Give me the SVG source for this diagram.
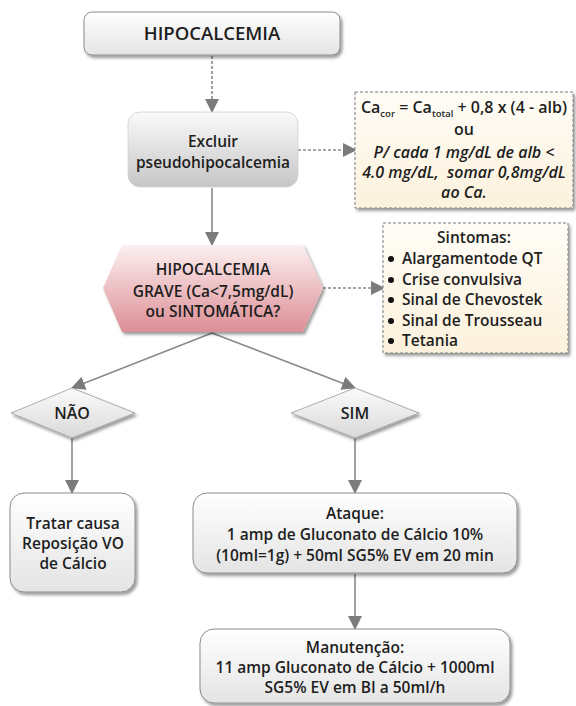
<svg xmlns="http://www.w3.org/2000/svg" width="576" height="706" viewBox="0 0 576 706">
  <defs>
    <linearGradient id="gWhite" x1="0" y1="0" x2="0" y2="1">
      <stop offset="0" stop-color="#ffffff"/>
      <stop offset="1" stop-color="#e4e4e4"/>
    </linearGradient>
    <linearGradient id="gGray" x1="0" y1="0" x2="0" y2="1">
      <stop offset="0" stop-color="#fafafa"/>
      <stop offset="1" stop-color="#c6c6c6"/>
    </linearGradient>
    <linearGradient id="gRose" x1="0" y1="0" x2="0" y2="1">
      <stop offset="0" stop-color="#fdf0f0"/>
      <stop offset="1" stop-color="#dc8e95"/>
    </linearGradient>
    <linearGradient id="gCream" x1="0" y1="0" x2="0" y2="1">
      <stop offset="0" stop-color="#fffdf7"/>
      <stop offset="1" stop-color="#fcf1dc"/>
    </linearGradient>
    <linearGradient id="gDiamond" x1="0" y1="0" x2="0" y2="1">
      <stop offset="0" stop-color="#fbfbfb"/>
      <stop offset="1" stop-color="#d9d9d9"/>
    </linearGradient>
    <filter id="shadow" x="-10%" y="-10%" width="125%" height="130%">
      <feDropShadow dx="2" dy="2.5" stdDeviation="1.6" flood-color="#000" flood-opacity="0.4"/>
    </filter>
    <marker id="arrow" viewBox="0 0 14 14" refX="13" refY="7" markerWidth="14" markerHeight="14" markerUnits="userSpaceOnUse" orient="auto">
      <path d="M0,0 L14,7 L0,14 Z" fill="#7b7b7b"/>
    </marker>
  </defs>
  <style>
    text { font-family: "Open Sans", "Liberation Sans", sans-serif; fill: #1e1e1e; text-anchor: middle; font-weight: 600; font-size: 15.5px; }
    .note { font-size: 16px; }
    .it { font-style: italic; }
    .list { font-size: 15.5px; text-anchor: start; }
    .conn { fill: none; stroke: #8a8a8a; stroke-width: 1.6; }
    .dash { stroke-dasharray: 3 2; }
    .box { stroke: #8c8c8c; stroke-width: 1; }
    .cream { fill: url(#gCream); stroke: #7a7a7a; stroke-width: 1; stroke-dasharray: 3 2; }
  </style>

  <!-- connectors -->
  <g id="connectors">
    <line class="conn dash" x1="212" y1="56" x2="212" y2="112" marker-end="url(#arrow)"/>
    <line class="conn dash" x1="298" y1="150" x2="356" y2="150" marker-end="url(#arrow)"/>
    <line class="conn" x1="212" y1="188" x2="212" y2="245" marker-end="url(#arrow)"/>
    <line class="conn dash" x1="323" y1="288" x2="384" y2="288" marker-end="url(#arrow)"/>
    <line class="conn" x1="212" y1="333" x2="72" y2="388" marker-end="url(#arrow)"/>
    <line class="conn" x1="212" y1="333" x2="355" y2="388" marker-end="url(#arrow)"/>
    <line class="conn" x1="72" y1="438" x2="72" y2="493" marker-end="url(#arrow)"/>
    <line class="conn" x1="355" y1="438" x2="355" y2="493" marker-end="url(#arrow)"/>
    <line class="conn" x1="355" y1="574" x2="355" y2="629" marker-end="url(#arrow)"/>
  </g>

  <g id="hipocalcemia">
    <rect class="box" x="84" y="12" width="256" height="43" rx="8" fill="url(#gWhite)" filter="url(#shadow)"/>
    <text x="212" y="40" style="font-size:18.5px">HIPOCALCEMIA</text>
  </g>

  <g id="excluir">
    <rect x="128" y="112" width="170" height="75" rx="12" fill="url(#gGray)" stroke="#d0d0d0" stroke-width="0.8"/>
    <text x="213" y="147">Excluir</text>
    <text x="213" y="168">pseudohipocalcemia</text>
  </g>

  <g id="formula">
    <rect class="cream" x="355" y="92" width="218" height="116" filter="url(#shadow)"/>
    <text class="note" x="464" y="113">Ca<tspan dy="4" font-size="9.5">cor</tspan><tspan dy="-4"> = Ca</tspan><tspan dy="4" font-size="9.5">total</tspan><tspan dy="-4"> + 0,8 x (4 - alb)</tspan></text>
    <text class="note" x="464" y="135">ou</text>
    <text class="note it" x="464" y="158">P/ cada 1 mg/dL de alb &lt;</text>
    <text class="note it" x="464" y="178" xml:space="preserve">4.0 mg/dL,  somar 0,8mg/dL</text>
    <text class="note it" x="464" y="198">ao Ca.</text>
  </g>

  <g id="grave">
    <polygon points="103,288 122,245 303,245 323,288 303,332 122,332" fill="url(#gRose)" filter="url(#shadow)"/>
    <text x="213" y="275">HIPOCALCEMIA</text>
    <text x="213" y="297">GRAVE (Ca&lt;7,5mg/dL)</text>
    <text x="213" y="317">ou SINTOMÁTICA?</text>
  </g>

  <g id="sintomas">
    <rect class="cream" x="383" y="223" width="185" height="130" filter="url(#shadow)"/>
    <text x="474" y="243">Sintomas:</text>
    <g fill="#111">
      <circle cx="391" cy="259" r="3"/>
      <circle cx="391" cy="280" r="3"/>
      <circle cx="391" cy="300" r="3"/>
      <circle cx="391" cy="321" r="3"/>
      <circle cx="391" cy="341" r="3"/>
    </g>
    <text class="list" x="402" y="264">Alargamentode QT</text>
    <text class="list" x="402" y="285">Crise convulsiva</text>
    <text class="list" x="402" y="305">Sinal de Chevostek</text>
    <text class="list" x="402" y="326">Sinal de Trousseau</text>
    <text class="list" x="402" y="346">Tetania</text>
  </g>

  <g id="nao">
    <polygon points="11,413 72,388 135,413 72,438" fill="url(#gDiamond)" stroke="#9a9a9a" stroke-width="0.8" filter="url(#shadow)"/>
    <text x="72" y="419" style="font-size:16px">NÃO</text>
  </g>

  <g id="sim">
    <polygon points="291,413 355,388 419,413 355,438" fill="url(#gDiamond)" stroke="#9a9a9a" stroke-width="0.8" filter="url(#shadow)"/>
    <text x="355" y="419" style="font-size:16px">SIM</text>
  </g>

  <g id="tratar">
    <rect class="box" x="10" y="493" width="125" height="99" rx="14" fill="url(#gWhite)" filter="url(#shadow)"/>
    <text x="73" y="529">Tratar causa</text>
    <text x="73" y="549">Reposição VO</text>
    <text x="73" y="569">de Cálcio</text>
  </g>

  <g id="ataque">
    <rect class="box" x="193" y="493" width="324" height="80" rx="14" fill="url(#gWhite)" filter="url(#shadow)"/>
    <text x="355" y="519">Ataque:</text>
    <text x="355" y="540">1 amp de Gluconato de Cálcio 10%</text>
    <text x="355" y="561">(10ml=1g) + 50ml SG5% EV em 20 min</text>
  </g>

  <g id="manutencao">
    <rect class="box" x="200" y="629" width="310" height="74" rx="14" fill="url(#gWhite)" filter="url(#shadow)"/>
    <text x="355" y="653">Manutenção:</text>
    <text x="355" y="673">11 amp Gluconato de Cálcio + 1000ml</text>
    <text x="355" y="693">SG5% EV em BI a 50ml/h</text>
  </g>
</svg>
